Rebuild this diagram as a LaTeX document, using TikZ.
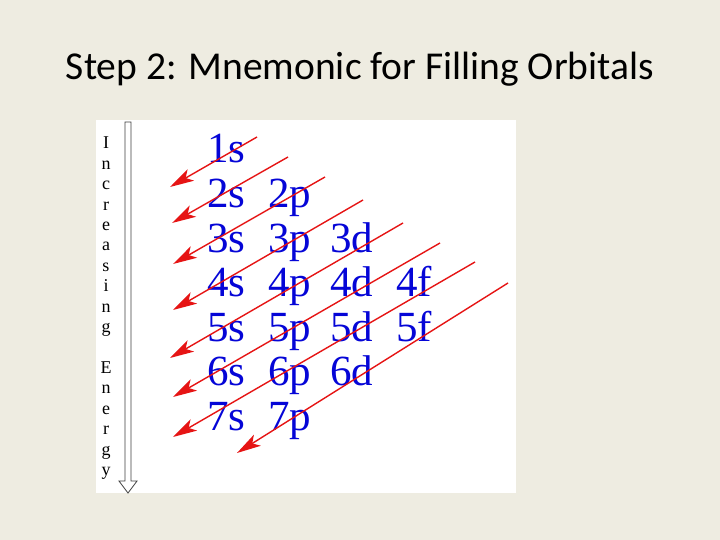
\documentclass[tikz,border=0pt]{standalone}
\usepackage{fontspec}
\setmainfont{Liberation Serif}
\newfontfamily\titlefont{Carlito}
\usetikzlibrary{arrows.meta}
\definecolor{bg}{HTML}{EEECE1}
\definecolor{orbc}{RGB}{5,5,215}
\definecolor{arrc}{RGB}{230,20,20}
\begin{document}
\begin{tikzpicture}[x=1pt,y=-1pt,
  orb/.style={anchor=base west, inner sep=0pt, text=orbc, font=\fontsize{43}{43}\selectfont},
  letter/.style={anchor=base, inner sep=0pt, font=\fontsize{18}{18}\selectfont},
  fillarrow/.style={draw=arrc, line width=1.4pt, -{Stealth[length=24pt,width=13pt,inset=6pt]}}]
\fill[bg] (0,0) rectangle (720,540);
\useasboundingbox (0,0) rectangle (720,540);
\node[font=\titlefont\fontsize{39.5}{40}\selectfont, anchor=base, inner sep=0pt] (title) at (360,80) {Step 2: Mnemonic for Filling Orbitals};
\fill[white] (96,120) rectangle (516,493);
% vertical label
\foreach \ch [count=\k from 0] in {I,n,c,r,e,a,s,i,n,g,{},E,n,e,r,g,y}
  \node[letter] (L\k) at (106,149+20.4*\k) {\ch};
% energy arrow
\draw[line width=0.8pt, draw=black!75] (125,122) -- (131,122) -- (131,481) -- (137,481) -- (128,493) -- (119,481) -- (125,481) -- cycle;
% orbitals
\foreach \n in {1,...,7} \node[orb] (o\n s) at (207,163+44.5*\n-44.5) {\n s};
\foreach \n in {2,...,7} \node[orb] (o\n p) at (268,163+44.5*\n-44.5) {\n p};
\foreach \n in {3,...,6} \node[orb] (o\n d) at (330,163+44.5*\n-44.5) {\n d};
\foreach \n in {4,5} \node[orb] (o\n f) at (396,163+44.5*\n-44.5) {\n f};
% diagonal arrows
\coordinate (s1) at (257,137); \coordinate (e1) at (170,187);
\coordinate (s2) at (288,157); \coordinate (e2) at (172,223);
\coordinate (s3) at (325,177); \coordinate (e3) at (173,264);
\coordinate (s4) at (363,200); \coordinate (e4) at (173,310);
\coordinate (s5) at (403,223); \coordinate (e5) at (170,358);
\coordinate (s6) at (440,243); \coordinate (e6) at (173,397);
\coordinate (s7) at (475,262); \coordinate (e7) at (173,437);
\coordinate (s8) at (508,283); \coordinate (e8) at (237,453);
\foreach \i in {1,...,8} \draw[fillarrow] (s\i) -- (e\i);
\end{tikzpicture}
\end{document}
